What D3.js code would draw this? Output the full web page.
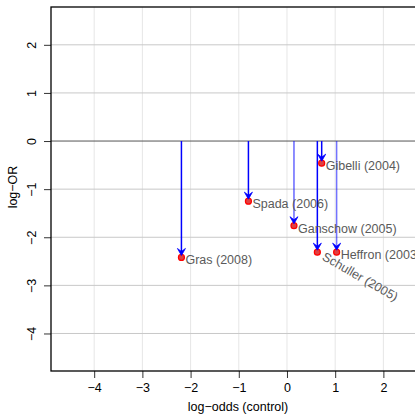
<!DOCTYPE html>
<html><head><meta charset="utf-8">
<script src="https://cdn.jsdelivr.net/npm/d3@7"></script>
<style>body{margin:0;background:#fff}svg{display:block;font-family:"Liberation Sans",Arial,sans-serif}</style>
</head><body><svg id="c" width="415" height="415"></svg>
<script>
const studies = ["Gras (2008)","Spada (2006)","Ganschow (2005)","Schuller (2005)","Gibelli (2004)","Heffron (2003)"];
const logOddsControl = [-2.19,-0.80,0.145,0.63,0.72,1.03];
const logOR = [-2.42,-1.25,-1.76,-2.31,-0.46,-2.31];
const xTicks = [-4,-3,-2,-1,0,1,2];
const yTicks = [-4,-3,-2,-1,0,1,2];
const lineAlpha = [1,1,0.6,1,1,0.55];

const svg = d3.select("#c");
const L=51, T=7, B=371, R=415;
const x = d3.scaleLinear().domain([-4.896,2.656]).range([L,R]);
const y = d3.scaleLinear().domain([-4.78,2.786]).range([B,T]);
const fmt = d => d<0 ? "\u2212"+Math.abs(d) : String(d);

// grid
svg.append("g").selectAll("line").data(xTicks).join("line")
  .attr("x1",d=>x(d)).attr("x2",d=>x(d)).attr("y1",T).attr("y2",B)
  .attr("stroke","#e6e6e6").attr("stroke-width",1);
svg.append("g").selectAll("line").data(yTicks.filter(d=>d!==0)).join("line")
  .attr("x1",L).attr("x2",R).attr("y1",d=>y(d)).attr("y2",d=>y(d))
  .attr("stroke","#c8c8c8").attr("stroke-width",1);
svg.append("line").attr("x1",L).attr("x2",R).attr("y1",y(0)).attr("y2",y(0))
  .attr("stroke","#555").attr("stroke-width",1);

// axes
const xa = svg.append("g").attr("transform",`translate(0,${B})`)
  .call(d3.axisBottom(x).tickValues(xTicks).tickFormat(fmt).tickSize(7).tickPadding(5));
const ya = svg.append("g").attr("transform",`translate(${L},0)`)
  .call(d3.axisLeft(y).tickValues(yTicks).tickFormat(fmt).tickSize(7).tickPadding(5));
[xa,ya].forEach(a=>{a.select(".domain").remove();a.selectAll("line").attr("stroke","#333");
  a.selectAll("text").attr("font-size",12.5).attr("fill","#000").attr("font-family","Liberation Sans, Arial, sans-serif");});
ya.selectAll("text").attr("text-anchor","middle").attr("dy",null).attr("x",0).attr("y",0)
  .attr("transform","translate(-18,0) rotate(-90)")
  .attr("dominant-baseline","middle");
// box
svg.append("rect").attr("x",L).attr("y",T).attr("width",R-L+5).attr("height",B-T)
  .attr("fill","none").attr("stroke","#000").attr("stroke-width",1.3);

// titles
svg.append("text").attr("x",(L+R)/2+5).attr("y",411).attr("text-anchor","middle")
  .attr("font-size",12.5).text("log\u2212odds (control)");
svg.append("text").attr("transform",`translate(17,${(T+B)/2-2}) rotate(-90)`).attr("text-anchor","middle")
  .attr("font-size",12.5).text("log\u2212OR");

// arrows
const idx = d3.range(studies.length);
const g = svg.append("g");
g.selectAll("line.arr").data(idx).join("line").attr("class","arr")
  .attr("x1",i=>x(logOddsControl[i])).attr("x2",i=>x(logOddsControl[i]))
  .attr("y1",y(0)).attr("y2",i=>y(logOR[i])-3)
  .attr("stroke","#0000ff").attr("stroke-width",1.5).attr("stroke-opacity",i=>lineAlpha[i]);
g.selectAll("circle").data(idx).join("circle")
  .attr("cx",i=>x(logOddsControl[i])).attr("cy",i=>y(logOR[i])).attr("r",3)
  .attr("fill","#e04040").attr("stroke","#ff0000").attr("stroke-width",1.2);
g.selectAll("path.head").data(idx).join("path").attr("class","head")
  .attr("d",i=>{const px=x(logOddsControl[i]),py=y(logOR[i])-2;
    return `M${px-4},${py-7}L${px},${py}L${px+4},${py-7}L${px},${py-4}Z`;})
  .attr("fill","#0000ff").attr("stroke","#0000ff").attr("stroke-width",0.8);

// labels
g.selectAll("text.lab").data(idx).join("text").attr("class","lab")
  .attr("transform",i=>{const px=x(logOddsControl[i])+4,py=y(logOR[i])+7;
    return studies[i].startsWith("Schuller")?`translate(${px},${py}) rotate(30)`:`translate(${px},${py})`;})
  .attr("font-size",12.5).attr("fill","#5a5a5a").text(i=>studies[i]);
</script></body></html>
